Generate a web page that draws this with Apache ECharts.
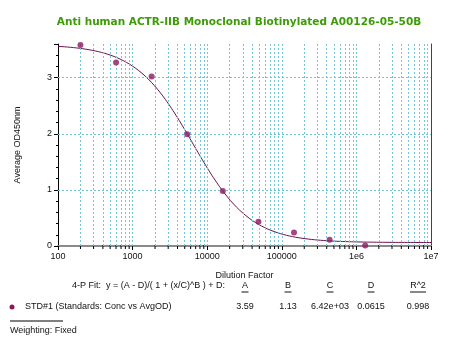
<!DOCTYPE html>
<html>
<head>
<meta charset="utf-8">
<script src="https://cdn.jsdelivr.net/npm/echarts@6/dist/echarts.min.js"></script>
<style>
  html, body { margin: 0; padding: 0; background: #fff; }
  #chart { width: 450px; height: 344px; }
</style>
</head>
<body>
<div id="chart"></div>
<script>
// Standard dilutions and measured average OD450
const dilution = [200, 600, 1800, 5400, 16200, 48600, 145800, 437400, 1312200];
const avgOD = [3.58, 3.27, 3.02, 1.99, 0.98, 0.43, 0.24, 0.11, 0.01];

// 4-parameter logistic fit results
const fitA = 3.59;
const fitB = 1.13;
const fitC = 6.42e3;
const fitD = 0.0615;
const fitR2 = 0.998;
const fitLabels = ['A', 'B', 'C', 'D', 'R^2'];
const fitValues = ['3.59', '1.13', '6.42e+03', '0.0615', '0.998'];

// Axis ranges and labels
const xMin = 100, xMax = 1e7;
const yMin = 0, yMax = 3.6;
const yGrid = [1, 2, 3];
const xTickText = { 100: '100', 1000: '1000', 10000: '10000', 100000: '100000', 1000000: '1e6', 10000000: '1e7' };

// Every decade position 1..9 x 10^k used for the dotted vertical grid
const xGrid = [];
for (let d = 100; d < xMax; d *= 10) {
  for (let k = 1; k <= 9; k++) {
    const v = k * d;
    if (v > xMin && v < xMax) xGrid.push(v);
  }
}
const xMinorTicks = xGrid.filter(v => !xTickText[v]);

// Fitted curve y = (A - D) / (1 + (x/C)^B) + D across the axis range
function fourPL(x) {
  return (fitA - fitD) / (1 + Math.pow(x / fitC, fitB)) + fitD;
}
const fitLine = [];
const nFit = 240;
for (let i = 0; i <= nFit; i++) {
  const x = Math.pow(10, Math.log10(xMin) + (Math.log10(xMax) - Math.log10(xMin)) * i / nFit);
  fitLine.push([x, fourPL(x)]);
}

const chart = echarts.init(document.getElementById('chart'), null, { renderer: 'canvas' });

const gridColor = '#72c6d6';
const font = 'Liberation Sans, Arial, sans-serif';
const colX = [245, 288, 330, 371, 418];

const graphics = [
  {
    type: 'text', x: 239, y: 22,
    style: {
      text: 'Anti human ACTR-IIB Monoclonal Biotinylated A00126-05-50B',
      fill: '#3c9c08', font: 'bold 10.5px "DejaVu Sans", Verdana, sans-serif',
      align: 'center', verticalAlign: 'middle'
    }
  },
  {
    type: 'text', x: 225, y: 281,
    style: { text: '4-P Fit:  y = (A - D)/( 1 + (x/C)^B ) + D:', fill: '#111', font: '9px ' + font, align: 'right' }
  },
  {
    type: 'circle', shape: { cx: 12, cy: 307, r: 2.5 }, style: { fill: '#8c1862' }
  },
  {
    type: 'text', x: 25, y: 302,
    style: { text: 'STD#1 (Standards: Conc vs AvgOD)', fill: '#111', font: '9px ' + font }
  },
  {
    type: 'line', shape: { x1: 10, y1: 321, x2: 63, y2: 321 }, style: { stroke: '#000', lineWidth: 1 }
  },
  {
    type: 'text', x: 10, y: 326,
    style: { text: 'Weighting: Fixed', fill: '#111', font: '9px ' + font }
  }
];
fitLabels.forEach((t, i) => {
  const w = t.length === 1 ? 7 : 16;
  graphics.push({
    type: 'text', x: colX[i], y: 281,
    style: { text: t, fill: '#111', font: '9px ' + font, align: 'center' }
  });
  graphics.push({
    type: 'line', shape: { x1: colX[i] - w / 2, y1: 292, x2: colX[i] + w / 2, y2: 292 },
    style: { stroke: '#111', lineWidth: 1 }
  });
});
fitValues.forEach((t, i) => {
  graphics.push({
    type: 'text', x: colX[i], y: 302,
    style: { text: t, fill: '#111', font: '9px ' + font, align: 'center' }
  });
});

chart.setOption({
  animation: false,
  backgroundColor: '#fff',
  grid: { left: 58, right: 19, top: 44, bottom: 98 },
  graphic: graphics,
  xAxis: [
    {
      type: 'log', logBase: 10, min: xMin, max: xMax,
      name: 'Dilution Factor', nameLocation: 'middle', nameGap: 25,
      nameTextStyle: { fontFamily: font, fontSize: 9, color: '#111' },
      axisLine: { lineStyle: { color: '#000', width: 1 } },
      axisTick: { show: true, length: 4, lineStyle: { color: '#000' } },
      axisLabel: {
        fontFamily: font, fontSize: 9, color: '#111', margin: 6,
        formatter: v => xTickText[Math.round(v)] || ''
      },
      splitLine: { show: false }
    },
    {
      type: 'log', logBase: 10, min: xMin, max: xMax, position: 'top',
      axisLine: { lineStyle: { color: '#8a8a8a', width: 2 } },
      axisTick: { show: false }, axisLabel: { show: false }, splitLine: { show: false }
    }
  ],
  yAxis: [
    {
      type: 'value', min: yMin, max: yMax, interval: 1,
      name: 'Average OD450nm', nameLocation: 'middle', nameGap: 36,
      nameTextStyle: { fontFamily: font, fontSize: 9, color: '#111' },
      axisLine: { show: true, lineStyle: { color: '#000', width: 1 } },
      axisTick: { show: true, length: 4, lineStyle: { color: '#000' } },
      minorTick: { show: true, splitNumber: 5, length: 2, lineStyle: { color: '#000' } },
      axisLabel: { fontFamily: font, fontSize: 9, color: '#111', margin: 6, showMaxLabel: false },
      splitLine: { show: false }
    },
    {
      type: 'value', min: yMin, max: yMax, position: 'right',
      axisLine: { show: true, lineStyle: { color: '#444', width: 1 } },
      axisTick: { show: false }, axisLabel: { show: false }, splitLine: { show: false }
    }
  ],
  series: [
    {
      // dotted grid lines at every log position and at whole OD values
      type: 'line', data: [], silent: true,
      markLine: {
        silent: true, symbol: 'none', animation: false,
        label: { show: false },
        lineStyle: { type: [2, 2], color: gridColor, width: 1 },
        data: xGrid.map(v => ({ xAxis: v })).concat(yGrid.map(v => ({ yAxis: v })))
      },
      z: 1
    },
    {
      // short minor tick marks under the x axis
      type: 'custom', silent: true, clip: false, z: 3,
      data: xMinorTicks.map(v => [v, 0]),
      renderItem: (params, api) => {
        const p = api.coord([api.value(0), 0]);
        return {
          type: 'line',
          shape: { x1: p[0], y1: p[1] - 1, x2: p[0], y2: p[1] + 3 },
          style: { stroke: '#000', lineWidth: 1 }
        };
      }
    },
    {
      name: 'fit', type: 'line', data: fitLine, showSymbol: false, smooth: false,
      lineStyle: { color: '#6e1152', width: 1 }, z: 4, silent: true
    },
    {
      name: 'STD#1', type: 'scatter',
      data: dilution.map((x, i) => [x, avgOD[i]]),
      symbol: 'circle', symbolSize: 6,
      itemStyle: { color: '#8c1862' }, z: 5
    }
  ]
});
</script>
</body>
</html>
